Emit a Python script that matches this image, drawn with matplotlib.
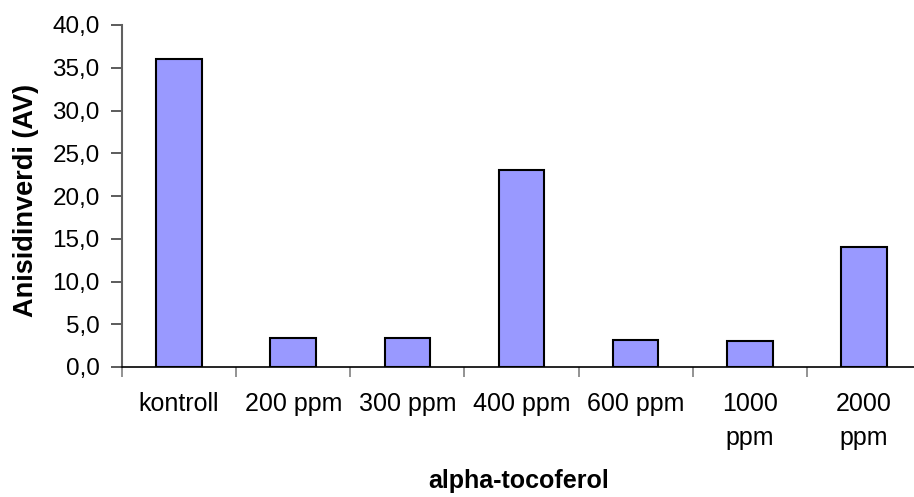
import numpy as np
import matplotlib
matplotlib.use('Agg')
import matplotlib.pyplot as plt
from matplotlib.ticker import FixedLocator, FuncFormatter

# values
categories = ['kontroll', '200 ppm', '300 ppm', '400 ppm', '600 ppm', '1000\nppm', '2000\nppm']
anisidin = [36.0, 3.4, 3.4, 23.0, 3.2, 3.0, 14.0]
yTicks = [0, 5, 10, 15, 20, 25, 30, 35, 40]

plt.rcParams['font.family'] = ['Liberation Sans', 'DejaVu Sans']

W, H = 914, 497
fig = plt.figure(figsize=(W / 100, H / 100), dpi=100)
# plot area runs a bit past the right edge, like the original
ax = fig.add_axes([122 / W, 130 / H, (921 - 122) / W, (472 - 130) / H])

x = np.arange(len(categories))
ax.bar(x, anisidin, width=0.4, color='#9999FF', edgecolor='black', linewidth=1.5, zorder=3)

ax.set_xlim(-0.5, len(categories) - 0.5)
ax.set_ylim(0, 40)

# y axis
ax.yaxis.set_major_locator(FixedLocator(yTicks))
ax.yaxis.set_major_formatter(FuncFormatter(lambda v, p: ('%.1f' % v).replace('.', ',')))
ax.tick_params(axis='y', direction='out', length=8, width=1.2, pad=8, labelsize=17.5, color='#404040')

# x axis: ticks between categories, labels at centers
ax.xaxis.set_major_locator(FixedLocator(np.arange(len(categories) + 1) - 0.5))
ax.xaxis.set_major_formatter(FuncFormatter(lambda v, p: ''))
ax.xaxis.set_minor_locator(FixedLocator(x))
ax.set_xticklabels(categories, minor=True, linespacing=1.55)
ax.tick_params(axis='x', which='major', direction='out', length=7, width=1.2, color='#808080')
ax.tick_params(axis='x', which='minor', length=0, pad=18, labelsize=18)

for side in ['top', 'right']:
    ax.spines[side].set_visible(False)
ax.spines['left'].set_color('#606060')
ax.spines['left'].set_linewidth(1.5)
ax.spines['bottom'].set_color('black')
ax.spines['bottom'].set_linewidth(1.2)

fig.text(26 / W, 1 - 200 / H, 'Anisidinverdi (AV)', rotation=90, ha='center', va='center',
         fontsize=19.5, fontweight='bold')
fig.text(519 / W, 1 - 481 / H, 'alpha-tocoferol', ha='center', va='center',
         fontsize=18, fontweight='bold')

fig.savefig('out.png', dpi=100)
